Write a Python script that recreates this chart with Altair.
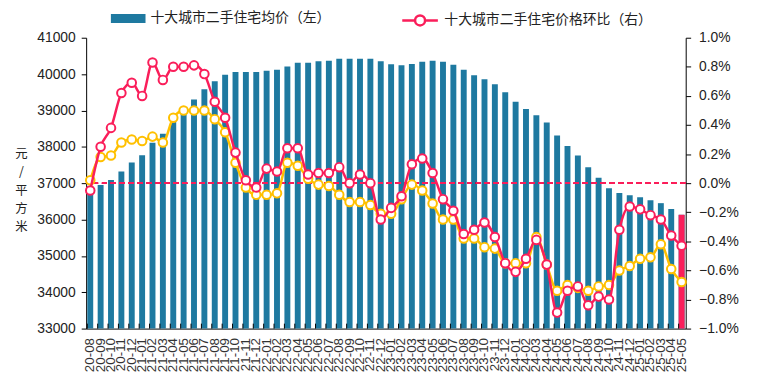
import altair as alt
import pandas as pd

months = ["20-08", "20-09", "20-10", "20-11", "20-12",
          "21-01", "21-02", "21-03", "21-04", "21-05", "21-06", "21-07", "21-08", "21-09", "21-10", "21-11", "21-12",
          "22-01", "22-02", "22-03", "22-04", "22-05", "22-06", "22-07", "22-08", "22-09", "22-10", "22-11", "22-12",
          "23-01", "23-02", "23-03", "23-04", "23-05", "23-06", "23-07", "23-08", "23-09", "23-10", "23-11", "23-12",
          "24-01", "24-02", "24-03", "24-04", "24-05", "24-06", "24-07", "24-08", "24-09", "24-10", "24-11", "24-12",
          "25-01", "25-02", "25-03", "25-04", "25-05"]

avg_price = [36920, 36950, 37090, 37320, 37570, 37770, 38110, 38360, 38790, 39020,
             39300, 39580, 39800, 39980, 40060, 40060, 40060, 40090, 40120, 40210,
             40310, 40310, 40350, 40370, 40420, 40420, 40420, 40420, 40350, 40270,
             40240, 40280, 40340, 40370, 40340, 40260, 40120, 39970, 39860, 39720,
             39500, 39240, 39040, 38870, 38670, 38310, 38020, 37760, 37440, 37150,
             36860, 36730, 36670, 36610, 36530, 36450, 36290, 36130]

mom_ten = [-0.05, 0.25, 0.38, 0.62, 0.69, 0.60, 0.83, 0.71, 0.80, 0.80,
           0.81, 0.75, 0.56, 0.45, 0.21, 0.02, -0.03, 0.10, 0.08, 0.24,
           0.24, 0.06, 0.07, 0.07, 0.11, 0.00, 0.06, 0.00, -0.25, -0.17,
           -0.09, 0.13, 0.17, 0.07, -0.11, -0.19, -0.35, -0.32, -0.27, -0.37,
           -0.55, -0.61, -0.52, -0.39, -0.56, -0.89, -0.74, -0.71, -0.84, -0.78,
           -0.80, -0.32, -0.16, -0.18, -0.22, -0.25, -0.36, -0.43]

mom_other = [0.02, 0.18, 0.19, 0.28, 0.30, 0.29, 0.32, 0.28, 0.45, 0.50,
             0.50, 0.50, 0.44, 0.35, 0.14, -0.03, -0.08, -0.08, -0.07, 0.14,
             0.12, 0.03, -0.01, -0.02, -0.08, -0.13, -0.13, -0.15, -0.21, -0.21,
             -0.11, -0.01, -0.05, -0.14, -0.25, -0.25, -0.38, -0.38, -0.44, -0.45,
             -0.55, -0.55, -0.55, -0.37, -0.56, -0.74, -0.70, -0.72, -0.74, -0.71,
             -0.70, -0.60, -0.57, -0.52, -0.51, -0.42, -0.59, -0.68]

price_ticks = [33000, 34000, 35000, 36000, 37000, 38000, 39000, 40000, 41000]
pct_ticks = [-1.0, -0.8, -0.6, -0.4, -0.2, 0.0, 0.2, 0.4, 0.6, 0.8, 1.0]

bar_name = "十大城市二手住宅均价（左）"
line_name = "十大城市二手住宅价格环比（右）"

TEAL = "#1E79A0"
PINK = "#FA1E5A"
YELLOW = "#FFC000"
CJK = "Noto Sans CJK SC"
LAT = "Liberation Sans"

df = pd.DataFrame({"month": months, "price": avg_price, "mom": mom_ten, "mom2": mom_other})
df["bar_series"] = bar_name
df["line_series"] = line_name
last_df = df.tail(1)

W, H = 606, 294

x_axis = alt.Axis(title=None, labelAngle=270, labelFontSize=13.5, labelFont=LAT,
                  labelColor="#333333", ticks=False, domainColor="#000000",
                  labelPadding=9, grid=False, labelOverlap=False)
x_scale = alt.Scale(paddingInner=0.43, paddingOuter=0.11)


def xenc(**kw):
    return alt.X("month:N", sort=months, scale=x_scale, axis=x_axis, **kw)


price_scale = alt.Scale(domain=[33000, 41000], nice=False, zero=False)
pct_scale = alt.Scale(domain=[-1.0, 1.0], nice=False, zero=False)

left_axis = alt.Axis(values=price_ticks, tickCount=9, format="d",
                     title=["元", "/", "平", "方", "米"], titleAngle=0, titleAlign="center",
                     titleBaseline="top", titleX=-66, titleY=111, titleFont=CJK,
                     titleFontSize=12.5, titleFontWeight="normal", titleLineHeight=18.5,
                     titleColor="#222222", labelFont=LAT, labelFontSize=14,
                     labelColor="#222222", tickSize=5, tickColor="#000000",
                     domainColor="#000000", grid=False, labelPadding=6, labelOverlap=False)

right_axis = alt.Axis(orient="right", values=pct_ticks, tickCount=11,
                      labelExpr="format(datum.value, '.1f') + '%'", title=None,
                      labelFont=LAT, labelFontSize=14, labelColor="#222222",
                      tickSize=5, tickColor="#000000", domainColor="#000000",
                      grid=False, labelPadding=8, labelOverlap=False)

bars = alt.Chart(df).mark_bar().encode(
    x=xenc(),
    y=alt.Y("price:Q", scale=price_scale, axis=left_axis),
    y2=alt.datum(33000),
    fill=alt.Fill("bar_series:N", scale=alt.Scale(domain=[bar_name], range=[TEAL]),
                  legend=alt.Legend(title=None, orient="none", legendX=25, legendY=-37,
                                    symbolType="M-1,-0.26H1V0.26H-1Z", symbolSize=1225,
                                    symbolStrokeWidth=0, labelFont=CJK, labelFontSize=14,
                                    labelColor="#222222", labelOffset=5, labelLimit=400)),
)

last_bar = alt.Chart(last_df).mark_bar(color=PINK).encode(
    x=xenc(),
    y=alt.Y("price:Q", scale=price_scale, axis=left_axis),
    y2=alt.datum(33000),
)

xticks = alt.Chart(df).mark_rule(color="#000000", strokeWidth=1).encode(
    x=xenc(bandPosition=0),
    y=alt.value(H - 5),
    y2=alt.value(H),
)

left = alt.layer(bars, last_bar, xticks)

zero_rule = alt.Chart(df).mark_rule(color=PINK, strokeDash=[5, 4], strokeWidth=1).encode(
    y=alt.Y(datum=0, scale=pct_scale, axis=right_axis),
)

yellow_line = alt.Chart(df).mark_line(color=YELLOW, strokeWidth=2.5, interpolate="monotone").encode(
    x=xenc(),
    y=alt.Y("mom2:Q", scale=pct_scale, axis=right_axis),
)
yellow_pts = alt.Chart(df).mark_point(filled=True, fill="white", stroke=YELLOW, strokeWidth=2,
                                      size=75, opacity=1, shape="circle").encode(
    x=xenc(),
    y=alt.Y("mom2:Q", scale=pct_scale, axis=right_axis),
)

pink_line = alt.Chart(df).mark_line(strokeWidth=2.5, interpolate="monotone").encode(
    x=xenc(),
    y=alt.Y("mom:Q", scale=pct_scale, axis=right_axis),
    stroke=alt.Stroke("line_series:N", scale=alt.Scale(domain=[line_name], range=[PINK]),
                      legend=alt.Legend(title=None, orient="none", legendX=318, legendY=-37,
                                        symbolType="M-1,0H-0.28M0.28,0H1M0.28,0A0.28,0.28,0,1,1,-0.28,0A0.28,0.28,0,1,1,0.28,0",
                                        symbolSize=1296, symbolStrokeWidth=2.5,
                                        symbolFillColor="white", labelFont=CJK, labelFontSize=14,
                                        labelColor="#222222", labelOffset=5, labelLimit=400)),
)
pink_pts = alt.Chart(df).mark_point(filled=True, fill="white", stroke=PINK, strokeWidth=2,
                                    size=75, opacity=1, shape="circle").encode(
    x=xenc(),
    y=alt.Y("mom:Q", scale=pct_scale, axis=right_axis),
)

right = alt.layer(zero_rule, yellow_line, yellow_pts, pink_line, pink_pts)

chart = alt.layer(left, right).resolve_scale(y="independent").properties(
    width=W, height=H,
    autosize=alt.AutoSizeParams(type="none"),
    padding={"left": 79, "top": 28, "right": 66, "bottom": 58},
    background="white",
).configure_view(stroke=None)

chart.save("out.html", embed_options={"renderer": "svg", "actions": False})
